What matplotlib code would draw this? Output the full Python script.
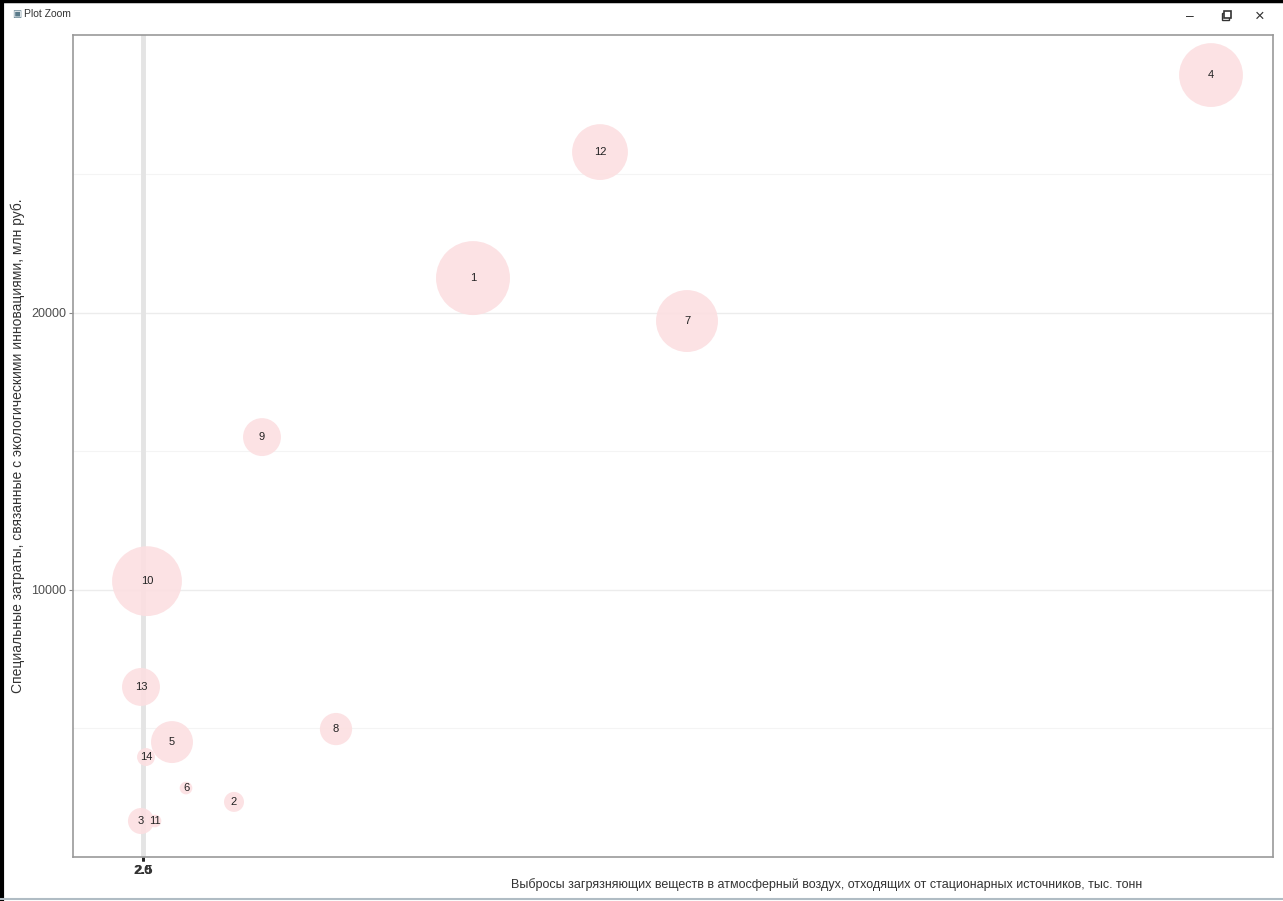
import matplotlib.pyplot as plt
from matplotlib.lines import Line2D
from matplotlib.patches import Rectangle

# region numbers and values
ids = ['1', '12', '4', '7', '9', '10', '13', '5', '14', '8', '6', '2', '3', '11']
emissions = [660, 914, 2136, 1088, 238, 8, -4, 58, 6, 386, 86, 182, -4, 24]
costs = [21260, 25810, 28590, 19710, 15520, 10320, 6500, 4510, 3970, 4980, 2850, 2350, 1660, 1660]
sizes = [137, 78, 102, 96, 36, 122, 36, 44, 8, 26, 4, 10, 17, 4]

y_ticks = [10000, 20000]
x_ticks = [0, 0.6]
x_tick_labels = ['2.0', '2.5']

plt.rcParams['font.family'] = ['Liberation Sans', 'DejaVu Sans']

fig = plt.figure(figsize=(12.83, 9.01), dpi=100)
ax = fig.add_axes([73 / 1283, 1 - 857 / 901, 1200 / 1283, 822 / 901])

# gridlines
for v in [5000, 15000, 25000]:
    ax.axhline(v, color='#f4f4f4', lw=0.8, zorder=0)
for v in y_ticks:
    ax.axhline(v, color='#ececec', lw=1.0, zorder=0)
ax.axvline(0, color='#e4e4e4', lw=3.5, zorder=0)

ax.scatter(emissions, costs, s=[v * 20.7 for v in sizes], color='#fcdfe1',
           alpha=0.9, edgecolors='none', zorder=2)
for x, y, t in zip(emissions, costs, ids):
    ax.text(x, y, t, ha='center', va='center', fontsize=8, color='#222222', zorder=3)

ax.set_xlim(-140, 2260)
ax.set_ylim(361, 30036)
ax.set_yticks(y_ticks)
ax.set_yticklabels(['10000', '20000'], fontsize=9, color='#4d4d4d')
ax.set_xticks(x_ticks)
ax.set_xticklabels(x_tick_labels, fontsize=9.5, fontweight='bold', color='#333333')
ax.tick_params(axis='y', length=3, color='#888888', pad=2)
ax.tick_params(axis='x', length=3, width=2, color='#222222', pad=3)
for s in ax.spines.values():
    s.set_color('#999999')
    s.set_linewidth(1.2)

ax.set_ylabel('Специальные затраты, связанные с экологическими инновациями, млн руб.',
              fontsize=10, color='#333333', labelpad=4)
fig.text(827 / 1283, 1 - 885 / 901,
         'Выбросы загрязняющих веществ в атмосферный воздух, отходящих от стационарных источников, тыс. тонн',
         ha='center', va='center', fontsize=9, color='#333333')

# window frame of the screenshot
fig.text(12 / 1283, 1 - 14 / 901, '\u25a3', fontsize=7, color='#5a7a8a', va='center')
fig.text(24 / 1283, 1 - 14 / 901, 'Plot Zoom', fontsize=7.5, color='#333333', va='center')
fig.text(1190 / 1283, 1 - 16 / 901, '\u2013', fontsize=10, color='#333333', ha='center', va='center')
# restore icon drawn as two small squares
fig.add_artist(Rectangle((1222 / 1283, 1 - 20 / 901), 7 / 1283, 7 / 901, transform=fig.transFigure,
                         fill=False, ec='#333333', lw=1))
fig.add_artist(Rectangle((1224 / 1283, 1 - 18 / 901), 7 / 1283, 7 / 901, transform=fig.transFigure,
                         fc='white', ec='#333333', lw=1.2))
fig.text(1260 / 1283, 1 - 16 / 901, '\u00d7', fontsize=12, color='#333333', ha='center', va='center')
fig.add_artist(Line2D([0, 1], [1 - 1 / 901, 1 - 1 / 901], transform=fig.transFigure, color='black', lw=2.5))
fig.add_artist(Line2D([2 / 1283, 2 / 1283], [0, 1], transform=fig.transFigure, color='black', lw=3))
fig.add_artist(Line2D([0, 1], [2 / 901, 2 / 901], transform=fig.transFigure, color='#b0bcc4', lw=1.5))

fig.savefig('out.png', dpi=100)
